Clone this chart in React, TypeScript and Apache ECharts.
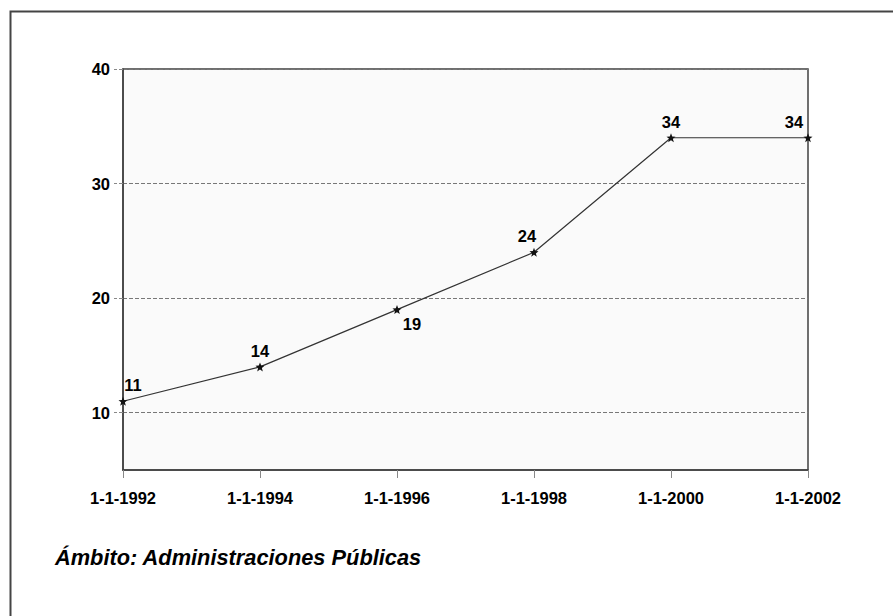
import React, { useEffect, useRef } from "react";
import * as echarts from "echarts";

const categories = ["1-1-1992", "1-1-1994", "1-1-1996", "1-1-1998", "1-1-2000", "1-1-2002"];
const values = [11, 14, 19, 24, 34, 34];
const yTicks = [10, 20, 30, 40];
const footnote = "Ámbito: Administraciones Públicas";

// label placement per point (style only)
const labelPos = ["top", "top", "bottom", "top", "top", "top"];
const labelOffset = [[10, 0], [0, 0], [15, -2], [-7, 0], [0, 0], [-14, 0]];

const FONT = "'Liberation Sans', Arial, Helvetica, sans-serif";
const STAR =
  "path://M50,0 L63,33 L98,35 L70,57 L80,92 L50,72 L20,92 L30,57 L2,35 L37,33 Z";

export default function App() {
  const ref = useRef<HTMLDivElement>(null);
  useEffect(() => {
    if (!ref.current) return;
    const chart = echarts.init(ref.current, null, { renderer: "svg" });
    chart.setOption({
      animation: false,
      backgroundColor: "#ffffff",
      textStyle: { fontFamily: FONT },
      title: {
        text: footnote,
        left: 55,
        top: 546,
        padding: 0,
        textStyle: {
          fontFamily: FONT,
          fontSize: 21.8,
          fontWeight: "bold",
          fontStyle: "italic",
          color: "#000",
        },
      },
      graphic: [
        {
          type: "rect",
          left: 8,
          top: 9,
          shape: { x: 0, y: 0, width: 1200, height: 1000 },
          style: { fill: "none", stroke: "#444", lineWidth: 2 },
          silent: true,
        },
      ],
      grid: {
        left: 123,
        top: 69,
        right: 85,
        bottom: 146,
        show: true,
        backgroundColor: "#fafafa",
        borderColor: "#404040",
        borderWidth: 1.5,
      },
      xAxis: {
        type: "category",
        data: categories,
        boundaryGap: false,
        axisLine: { show: true, lineStyle: { color: "#404040", width: 1.5 } },
        axisTick: { show: true, length: 8, lineStyle: { color: "#888" } },
        axisLabel: {
          margin: 19,
          fontFamily: FONT,
          fontSize: 16.5,
          fontWeight: "bold",
          color: "#000",
        },
        splitLine: { show: false },
      },
      yAxis: {
        type: "value",
        min: 5,
        max: 40,
        axisLine: { show: true, lineStyle: { color: "#404040", width: 1.5 } },
        axisTick: {
          show: true,
          length: 9,
          customValues: yTicks,
          lineStyle: { color: "#888", type: "dashed" },
        },
        axisLabel: {
          customValues: yTicks,
          margin: 13,
          fontFamily: FONT,
          fontSize: 16.5,
          fontWeight: "bold",
          color: "#000",
        },
        splitLine: {
          show: true,
          lineStyle: { color: "#777", type: "dashed", width: 1 },
        },
      },
      series: [
        {
          type: "line",
          data: values.map((v, i) => ({
            value: v,
            label: { position: labelPos[i], offset: labelOffset[i] },
          })),
          symbol: STAR,
          symbolSize: 9,
          itemStyle: { color: "#111" },
          lineStyle: { color: "#333", width: 1.2 },
          label: {
            show: true,
            distance: 3,
            fontFamily: FONT,
            fontSize: 16.5,
            fontWeight: "bold",
            color: "#000",
          },
        },
      ],
    });
    return () => chart.dispose();
  }, []);
  return (
    <div
      ref={ref}
      style={{ position: "fixed", left: 0, top: 0, width: 893, height: 616 }}
    />
  );
}
